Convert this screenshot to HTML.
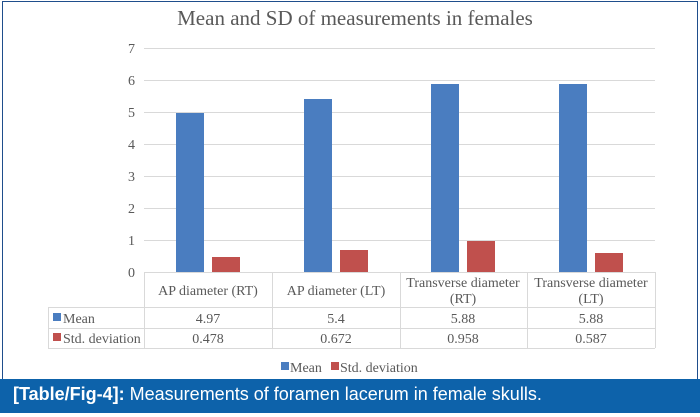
<!DOCTYPE html><html><head><style>
body{margin:0;width:700px;height:417px;background:#fff;position:relative;overflow:hidden;font-family:"Liberation Serif",serif;color:#595959}
.a{position:absolute}
svg text{font-family:"Liberation Serif",serif}
</style></head><body>
<div class="a" style="left:2px;top:1px;width:694px;height:378px;border:1.5px solid #1f4e8c;border-bottom:none"></div>
<div class="a" style="left:0;top:379px;width:700px;height:34px;background:#0d62aa"></div>
<div class="a" style="left:13px;top:384px;font:18px 'Liberation Sans',sans-serif;color:#fff"><b>[Table/Fig-4]:</b> Measurements of foramen lacerum in female skulls.</div>
<svg class="a" style="left:0;top:0" width="700" height="379" fill="#595959">
<text x="355" y="25" font-size="21" text-anchor="middle">Mean and SD of measurements in females</text>
<g stroke="#d9d9d9" stroke-width="1">
<line x1="144" x2="655" y1="48.5" y2="48.5"/><line x1="144" x2="655" y1="80.5" y2="80.5"/><line x1="144" x2="655" y1="112.5" y2="112.5"/><line x1="144" x2="655" y1="144.5" y2="144.5"/><line x1="144" x2="655" y1="176.5" y2="176.5"/><line x1="144" x2="655" y1="208.5" y2="208.5"/><line x1="144" x2="655" y1="240.5" y2="240.5"/>
<line x1="144" x2="655" y1="272.5" y2="272.5"/><line x1="48" x2="655" y1="307.5" y2="307.5"/><line x1="48" x2="655" y1="328.5" y2="328.5"/><line x1="48" x2="655" y1="348.5" y2="348.5"/>
<line x1="48.5" x2="48.5" y1="307" y2="348"/><line x1="144.5" x2="144.5" y1="272" y2="348"/><line x1="272.5" x2="272.5" y1="272" y2="348"/><line x1="400.5" x2="400.5" y1="272" y2="348"/><line x1="527.5" x2="527.5" y1="272" y2="348"/><line x1="655.5" x2="655.5" y1="272" y2="348"/>
</g>
<g font-size="14" text-anchor="end"><text x="135" y="53">7</text><text x="135" y="85">6</text><text x="135" y="117">5</text><text x="135" y="149">4</text><text x="135" y="181">3</text><text x="135" y="213">2</text><text x="135" y="245">1</text><text x="135" y="277">0</text></g>
<g fill="#4a7dc0"><rect x="176" y="113" width="28" height="159"/><rect x="304" y="99" width="28" height="173"/><rect x="431" y="84" width="28" height="188"/><rect x="559" y="84" width="28" height="188"/></g>
<g fill="#c0504d"><rect x="212" y="257" width="28" height="15"/><rect x="340" y="250" width="28" height="22"/><rect x="467" y="241" width="28" height="31"/><rect x="595" y="253" width="28" height="19"/></g>
<g font-size="14" text-anchor="middle">
<text x="208" y="295">AP diameter (RT)</text><text x="336" y="295">AP diameter (LT)</text>
<text x="463" y="287">Transverse diameter</text><text x="463" y="303">(RT)</text>
<text x="591" y="287">Transverse diameter</text><text x="591" y="303">(LT)</text>
<text x="208" y="323">4.97</text><text x="336" y="323">5.4</text><text x="463" y="323">5.88</text><text x="591" y="323">5.88</text>
<text x="208" y="343">0.478</text><text x="336" y="343">0.672</text><text x="463" y="343">0.958</text><text x="591" y="343">0.587</text>
</g>
<rect x="53" y="313" width="8" height="8" fill="#4a7dc0"/><text x="63" y="323" font-size="14">Mean</text>
<rect x="53" y="333" width="8" height="8" fill="#c0504d"/><text x="63" y="343" font-size="14">Std. deviation</text>
<rect x="281" y="362" width="8" height="8" fill="#4a7dc0"/><text x="290" y="372" font-size="14">Mean</text>
<rect x="331" y="362" width="8" height="8" fill="#c0504d"/><text x="340" y="372" font-size="14">Std. deviation</text>
</svg>
</body></html>
